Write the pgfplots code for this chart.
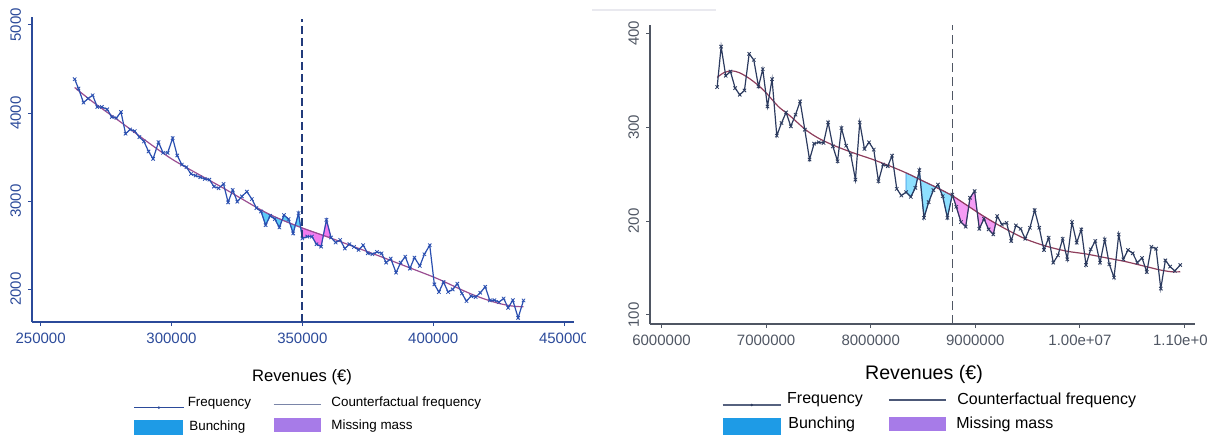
\documentclass[border=0pt]{standalone}
\usepackage{pgfplots}
\usepackage{pgfplotstable}
\pgfplotsset{compat=1.18}
\usepgfplotslibrary{fillbetween}
\usepackage{fontspec}
\setmainfont{Liberation Sans}

\definecolor{lnavy}{HTML}{2B4A9A}
\definecolor{lfreq}{HTML}{2A4FB0}
\definecolor{lcfc}{HTML}{9A4E92}
\definecolor{lbunch}{HTML}{5CCBF7}
\definecolor{lbunchedge}{HTML}{2E8FE0}
\definecolor{lmiss}{HTML}{F27BEF}
\definecolor{lmissedge}{HTML}{D63FD8}
\definecolor{rgrey}{HTML}{4F5663}
\definecolor{rfreq}{HTML}{2C3B5F}
\definecolor{rcfc}{HTML}{8E3E5C}
\definecolor{rbunch}{HTML}{8EE0FF}
\definecolor{rmiss}{HTML}{F59CF4}
\definecolor{legblue}{HTML}{1E9BE6}
\definecolor{legpurple}{HTML}{A77BE8}
\definecolor{legline}{HTML}{7A85A8}

% ---------- lower threshold (revenues in thousand EUR) ----------
\pgfplotstableread{
x y
263.000 4384
264.474 4278
266.374 4118
268.129 4164
269.883 4202
271.638 4069
273.392 4069
275.439 4042
277.193 3955
278.948 3944
280.702 4012
282.456 3765
284.211 3814
285.965 3795
287.720 3727
289.474 3678
291.228 3564
292.983 3480
295.030 3670
296.784 3548
298.538 3548
300.439 3716
302.193 3518
303.948 3415
305.702 3385
307.457 3309
309.211 3290
310.965 3271
312.720 3252
314.474 3244
316.229 3165
317.983 3146
319.884 3195
321.638 2986
323.392 3127
325.147 2994
326.901 3054
328.802 3108
330.702 3024
332.457 2921
334.211 2883
335.966 2728
337.720 2834
339.474 2796
341.229 2701
342.983 2842
344.738 2796
346.492 2633
348.539 2864
350.000 2576
351.901 2598
353.656 2598
355.410 2511
357.165 2484
359.212 2788
360.966 2587
362.720 2530
364.475 2560
366.229 2462
367.983 2511
369.738 2481
371.492 2446
373.247 2500
375.001 2408
376.755 2397
378.510 2424
380.264 2408
382.019 2302
383.773 2348
385.820 2188
387.574 2302
389.329 2370
391.083 2234
392.837 2359
394.884 2264
396.639 2397
398.685 2500
400.440 2055
402.194 1968
403.949 2082
405.703 1968
407.457 1998
409.212 2063
410.966 1952
412.721 1865
414.475 1922
416.229 1911
417.984 1960
419.884 2028
421.639 1873
423.393 1876
425.148 1854
426.902 1895
428.656 1789
430.411 1876
432.458 1675
434.505 1873
}\lowfreq

\pgfplotstableread{
x y
263.0 4290
270.0 4125
280.0 3910
290.0 3690
300.0 3480
310.0 3310
320.0 3145
333.6 2910
340.0 2815
350.0 2695
360.0 2590
370.0 2480
380.0 2370
390.0 2255
400.0 2140
405.0 2075
410.0 2005
415.0 1940
420.0 1885
425.0 1840
430.0 1810
434.5 1800
}\lowcf

% ---------- upper threshold (revenues in million EUR) ----------
\pgfplotstableread{
x y
6.532 342.7
6.570 385.8
6.614 354.7
6.659 359.3
6.704 341.6
6.748 334.5
6.793 339.1
6.838 378.1
6.882 371.7
6.927 343.4
6.968 361.8
7.013 322.1
7.057 351.1
7.102 291.0
7.147 304.4
7.191 315.7
7.236 300.9
7.281 313.3
7.325 327.4
7.370 297.3
7.415 265.5
7.459 282.5
7.504 283.9
7.549 283.2
7.593 305.1
7.638 279.6
7.683 263.7
7.720 299.1
7.765 280.3
7.809 270.8
7.854 244.2
7.895 305.1
7.940 276.8
7.984 283.9
8.029 276.1
8.074 242.5
8.118 260.2
8.163 258.4
8.204 269.7
8.249 234.3
8.293 227.2
8.338 230.8
8.383 225.8
8.427 235.4
8.465 254.2
8.509 203.5
8.554 220.2
8.599 232.9
8.643 238.9
8.688 226.5
8.733 203.5
8.780 228.3
8.818 215.2
8.863 198.9
8.908 194.0
8.949 224.8
8.993 231.9
9.038 191.8
9.083 202.5
9.127 191.1
9.172 185.8
9.209 205.3
9.254 196.4
9.299 198.2
9.343 178.8
9.388 195.4
9.433 191.8
9.477 181.2
9.522 192.9
9.567 211.7
9.611 192.9
9.656 169.2
9.701 182.3
9.745 155.7
9.790 163.5
9.835 181.2
9.879 159.3
9.924 198.9
9.969 177.0
10.013 191.1
10.058 153.3
10.103 169.9
10.147 178.8
10.192 155.7
10.237 180.5
10.281 154.0
10.326 139.8
10.371 185.8
10.415 159.3
10.460 169.2
10.505 165.7
10.549 155.7
10.594 160.7
10.639 145.8
10.683 172.7
10.728 170.6
10.773 128.1
10.817 158.2
10.862 151.5
10.907 146.9
10.959 153.3
}\highfreq

\pgfplotstableread{
x y
6.532 353
6.596 358
6.670 360
6.745 358
6.838 352
6.931 344
7.005 336
7.117 322
7.229 312
7.370 298
7.489 289
7.638 281
7.824 273
8.010 266
8.197 258
8.345 251
8.494 243
8.643 235
8.780 227
8.904 218
9.053 207
9.202 197
9.351 188
9.500 180
9.686 173
9.872 168
10.058 165
10.244 161
10.430 157
10.616 152
10.765 148
10.877 146
10.959 146
}\highcf

\begin{document}
\begin{tikzpicture}[x=1pt,y=1pt]

% left panel
\begin{axis}[
  at={(16pt,57pt)}, anchor=south west, scale only axis,
  width=271pt, height=152.5pt,
  xmin=246.7, xmax=453.8, ymin=1628, ymax=5090,
  axis x line*=bottom, axis y line*=left,
  axis line style={lnavy, line width=0.6pt, -},
  tick align=outside, major tick length=2pt,
  tick style={lnavy, line width=0.5pt},
  xtick={250,300,350,400,450},
  xticklabels={250000,300000,350000,400000,450000},
  ytick={2000,3000,4000,5000},
  yticklabels={2000,3000,4000,5000},
  ticklabel style={font=\fontsize{7.5}{9}\selectfont, text=lnavy},
  yticklabel style={rotate=90, anchor=south},
]
\addplot[name path=lcf, draw=none, smooth, forget plot] table[x=x,y=y]{\lowcf};
\addplot[name path=lfr, draw=none, forget plot] table[x=x,y=y]{\lowfreq};
\addplot[fill=lbunch, draw=lbunchedge, line width=0.4pt, forget plot]
  fill between[of=lfr and lcf, soft clip={domain=333.6:350}];
\addplot[fill=lmiss, draw=lmissedge, line width=0.4pt, forget plot]
  fill between[of=lfr and lcf, soft clip={domain=350:361}];
\addplot[lcfc, line width=0.6pt, smooth, no marks] table[x=x,y=y]{\lowcf};
\addplot[lfreq, line width=0.6pt, mark=x, mark size=1.2pt,
  mark options={line width=0.4pt}] table[x=x,y=y]{\lowfreq};
\addplot[color=lnavy!80!black, line width=0.9pt, dash pattern=on 4pt off 2pt, no marks]
  coordinates {(350,1628) (350,5070)};
\end{axis}

% the left panel's last tick label is cut where the right panel begins
\fill[white] (293,35) rectangle (306,56);

% right panel
\begin{axis}[
  at={(325pt,56pt)}, anchor=south west, scale only axis,
  width=272.5pt, height=149.5pt,
  xmin=5.89, xmax=11.1, ymin=90.4, ymax=408.8,
  axis x line*=bottom, axis y line*=left,
  axis line style={rgrey, line width=0.6pt, -},
  tick align=outside, major tick length=2pt,
  tick style={rgrey, line width=0.5pt},
  xtick={6,7,8,9,10,11},
  xticklabels={6000000,7000000,8000000,9000000,1.00e+07,1.10e+07},
  ytick={100,200,300,400},
  yticklabels={100,200,300,400},
  ticklabel style={font=\fontsize{7.5}{9}\selectfont, text=rgrey},
  yticklabel style={rotate=90, anchor=south},
]
\addplot[name path=hcf, draw=none, smooth, forget plot] table[x=x,y=y]{\highcf};
\addplot[name path=hfr, draw=none, forget plot] table[x=x,y=y]{\highfreq};
\addplot[fill=rbunch, draw=lbunchedge, line width=0.4pt, forget plot]
  fill between[of=hfr and hcf, soft clip={domain=8.338:8.78}];
\addplot[fill=rmiss, draw=lmissedge, line width=0.4pt, forget plot]
  fill between[of=hfr and hcf, soft clip={domain=8.78:9.19}];
\addplot[rcfc, line width=0.6pt, smooth, no marks] table[x=x,y=y]{\highcf};
\addplot[rfreq, line width=0.6pt, mark=x, mark size=1.2pt,
  mark options={line width=0.4pt}] table[x=x,y=y]{\highfreq};
\addplot[color=rgrey, line width=0.8pt, dash pattern=on 4.5pt off 2.5pt, no marks]
  coordinates {(8.78,90.4) (8.78,408.8)};
\end{axis}

% axis titles
\node[font=\fontsize{8.3}{10}\selectfont] at (151,29.5) {Revenues (€)};
\node[font=\fontsize{9.8}{12}\selectfont] at (462,31) {Revenues (€)};

% legend, left panel
\begin{scope}[font=\fontsize{6.7}{8}\selectfont]
\draw[lnavy, line width=0.6pt] (67,14.2) -- (92,14.2);
\fill[lnavy] (79.4,14.2) circle (0.7);
\node[anchor=west, inner sep=0] at (93.7,16.5) {Frequency};
\draw[legline, line width=0.5pt] (136.8,16) -- (160.7,16);
\node[anchor=west, inner sep=0] at (165.5,16.5) {Counterfactual frequency};
\fill[legblue] (67,0.5) rectangle (91.5,8);
\node[anchor=west, inner sep=0] at (94.5,4.5) {Bunching};
\fill[legpurple] (136.8,2) rectangle (160.7,9);
\node[anchor=west, inner sep=0] at (165.5,5) {Missing mass};
\end{scope}

% legend, right panel
\begin{scope}[font=\fontsize{8}{9.6}\selectfont]
\draw[rfreq!80, line width=0.6pt] (361.3,15.5) -- (390.5,15.5);
\fill[rfreq] (375.9,15.5) circle (0.7);
\node[anchor=west, inner sep=0] at (393.4,18) {Frequency};
\draw[rfreq!85, line width=0.6pt] (444.4,18) -- (472.8,18);
\node[anchor=west, inner sep=0] at (478.5,18) {Counterfactual frequency};
\fill[legblue] (361.3,0.5) rectangle (390.5,9);
\node[anchor=west, inner sep=0] at (394,6) {Bunching};
\fill[legpurple] (444.4,2.5) rectangle (472.8,9.5);
\node[anchor=west, inner sep=0] at (478,6) {Missing mass};
\end{scope}

% thin rule at the top of the right panel
\draw[color=blue!15!gray!15, line width=0.8pt] (296,213) -- (358,213);

\pgfresetboundingbox
\path[use as bounding box] (0,0) rectangle (603.5,218);
\end{tikzpicture}
\end{document}
